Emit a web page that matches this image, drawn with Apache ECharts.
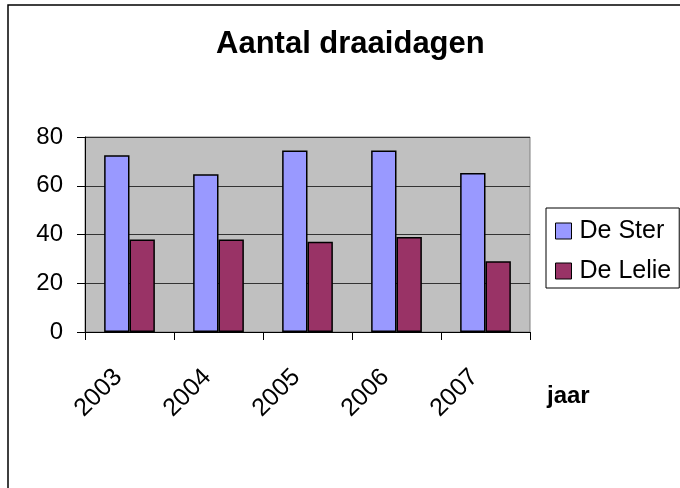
<!DOCTYPE html>
<html>
<head>
<meta charset="utf-8">
<script src="https://cdn.jsdelivr.net/npm/echarts@6/dist/echarts.min.js"></script>
<style>
  html, body { margin: 0; padding: 0; background: #fff; }
  #chart { width: 680px; height: 488px; }
</style>
</head>
<body>
<div id="chart"></div>
<script>
  // aantal draaidagen per jaar
  var jaren = ['2003', '2004', '2005', '2006', '2007'];
  var deSter = [72.5, 64.7, 74.5, 74.5, 65.2];
  var deLelie = [38, 38, 37, 39, 29];
  var yTicks = [0, 20, 40, 60, 80];

  var font = 'Liberation Sans, Arial, sans-serif';
  var chart = echarts.init(document.getElementById('chart'));

  var option = {
    backgroundColor: '#fff',
    animation: false,
    color: ['#9999ff', '#993366'],
    title: {
      text: 'Aantal draaidagen',
      left: 216,
      top: 29,
      padding: 0,
      textStyle: {
        fontFamily: font,
        fontSize: 31,
        fontWeight: 'bold',
        color: '#000'
      }
    },
    legend: {
      orient: 'vertical',
      left: 546,
      top: 208,
      padding: [9, 8, 3, 9],
      itemGap: 12,
      itemWidth: 16,
      itemHeight: 16,
      icon: 'rect',
      borderColor: '#000',
      borderWidth: 1,
      backgroundColor: '#fff',
      itemStyle: { borderColor: '#000', borderWidth: 1 },
      textStyle: {
        fontFamily: font,
        fontSize: 25,
        lineHeight: 28,
        color: '#000',
        padding: [0, 0, 0, 3]
      },
      data: ['De Ster', 'De Lelie']
    },
    grid: {
      left: 85,
      right: 150,
      top: 137,
      bottom: 156,
      show: true,
      backgroundColor: '#c0c0c0',
      borderColor: '#808080',
      borderWidth: 1
    },
    xAxis: {
      type: 'category',
      data: jaren,
      axisLine: { lineStyle: { color: '#000', width: 1 } },
      axisTick: { show: true, length: 8, lineStyle: { color: '#000' } },
      axisLabel: {
        rotate: 45,
        margin: 30,
        padding: [0, 16, 0, 0],
        fontFamily: font,
        fontSize: 25,
        color: '#000'
      }
    },
    yAxis: {
      type: 'value',
      min: yTicks[0],
      max: yTicks[yTicks.length - 1],
      interval: 20,
      axisLine: { show: true, lineStyle: { color: '#000', width: 1 } },
      axisTick: { show: true, length: 8, lineStyle: { color: '#000' } },
      axisLabel: {
        margin: 22,
        fontFamily: font,
        fontSize: 24,
        color: '#000'
      },
      splitLine: { lineStyle: { color: '#333', width: 1 } }
    },
    graphic: [
      {
        type: 'rect',
        shape: { x: 8, y: 5, width: 700, height: 500 },
        style: { fill: 'none', stroke: '#000', lineWidth: 1.5 },
        silent: true
      },
      {
        type: 'text',
        left: 547,
        top: 384,
        style: {
          text: 'jaar',
          fontFamily: font,
          fontSize: 24,
          fontWeight: 'bold',
          fill: '#000'
        }
      }
    ],
    series: [
      {
        name: 'De Ster',
        type: 'bar',
        barGap: '0%',
        barCategoryGap: '43%',
        itemStyle: { borderColor: '#000', borderWidth: 1.5 },
        data: deSter
      },
      {
        name: 'De Lelie',
        type: 'bar',
        itemStyle: { borderColor: '#000', borderWidth: 1.5 },
        data: deLelie
      }
    ]
  };

  chart.setOption(option);
</script>
</body>
</html>
